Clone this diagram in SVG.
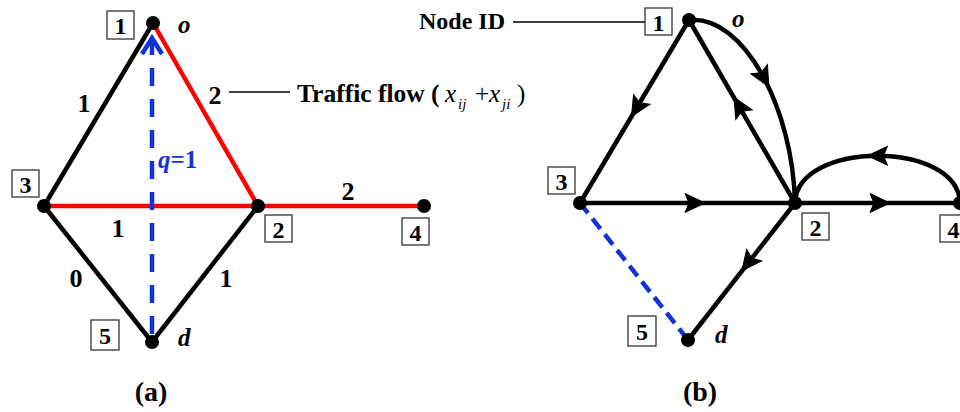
<svg xmlns="http://www.w3.org/2000/svg" width="960" height="412" viewBox="0 0 960 412">
<style>
.e{fill:none;stroke:#000;stroke-width:4.5;stroke-linejoin:round}
.r{fill:none;stroke:#ff0000;stroke-width:4.5}
.bl{fill:none;stroke:#1034d4;stroke-width:4.5}
.box{fill:#fff;stroke:#333;stroke-width:1.3}
.lead{stroke:#000;stroke-width:1.3}
.dot{fill:#000}
.ah{fill:#000;stroke:#000;stroke-width:1;stroke-linejoin:miter}
text{font-family:"Liberation Serif","Times New Roman",serif;font-weight:bold;fill:#000}
.id{font-size:24px;text-anchor:middle}
.el{font-size:26px;text-anchor:middle}
.it{font-style:italic;font-size:25px}
.cap{font-size:28px;text-anchor:middle}
.m{font-weight:normal;font-style:italic}
</style>
<defs>
<path id="arr" d="M10,0 L-10,-9.5 L-6,0 L-10,9.5 Z"/>
</defs>
<g id="connectors">
<!-- (a) -->
<line class="e" x1="153" y1="23" x2="44" y2="206"/>
<line class="e" x1="44" y1="206" x2="152" y2="342"/>
<line class="e" x1="152" y1="342" x2="258" y2="206"/>
<line class="r" x1="153" y1="23" x2="258" y2="206"/>
<line class="r" x1="44" y1="206" x2="258" y2="206"/>
<line class="r" x1="258" y1="206" x2="424" y2="206"/>
<line class="bl" x1="152" y1="334" x2="152" y2="40" stroke-dasharray="18 13"/>
<polyline class="bl" points="142,54 152,38 162,54"/>
<line class="lead" x1="229" y1="92" x2="290" y2="92"/>
<!-- (b) -->
<line class="bl" x1="580" y1="203" x2="688" y2="340" stroke-dasharray="13 7"/>
<line class="e" x1="689" y1="20" x2="580" y2="203"/>
<line class="e" x1="795" y1="203" x2="689" y2="20"/>
<line class="e" x1="580" y1="203" x2="795" y2="203"/>
<line class="e" x1="795" y1="203" x2="960" y2="203"/>
<line class="e" x1="795" y1="203" x2="688" y2="340"/>
<path class="e" d="M689,20 C745,15 793,110 795,203"/>
<path class="e" d="M960,203 C958,140 797,140 795,203"/>
<use class="ah" href="#arr" transform="translate(636.6,108) rotate(120.8)"/>
<use class="ah" href="#arr" transform="translate(739,106) rotate(-120.1)"/>
<use class="ah" href="#arr" transform="translate(695,203)"/>
<use class="ah" href="#arr" transform="translate(880,203)"/>
<use class="ah" href="#arr" transform="translate(748,263) rotate(128)"/>
<use class="ah" href="#arr" transform="translate(764,78) rotate(61)"/>
<use class="ah" href="#arr" transform="translate(877.5,155.75) rotate(180)"/>
<line class="lead" x1="513" y1="22" x2="645" y2="22"/>
</g>
<g id="a-node1"><circle class="dot" cx="153" cy="23" r="7"/><rect class="box" x="107" y="11" width="27" height="28"/><text class="id" x="120.5" y="34">1</text><text class="it" x="178" y="33">o</text></g>
<g id="a-node3"><circle class="dot" cx="44" cy="206" r="7"/><rect class="box" x="12" y="170" width="27" height="27"/><text class="id" x="25.5" y="193">3</text></g>
<g id="a-node2"><circle class="dot" cx="258" cy="206" r="7"/><rect class="box" x="265" y="215" width="27" height="27"/><text class="id" x="278.5" y="238">2</text></g>
<g id="a-node4"><circle class="dot" cx="424" cy="206" r="7"/><rect class="box" x="402" y="218" width="27" height="27"/><text class="id" x="415.5" y="241">4</text></g>
<g id="a-node5"><circle class="dot" cx="152" cy="342" r="7"/><rect class="box" x="91" y="320" width="28" height="30"/><text class="id" x="105" y="344">5</text><text class="it" x="178" y="346">d</text></g>
<g id="a-labels">
<text class="el" x="84" y="112">1</text>
<text class="el" x="215" y="104">2</text>
<text class="el" x="118" y="237">1</text>
<text class="el" x="348" y="200">2</text>
<text class="el" x="76" y="287">0</text>
<text class="el" x="226" y="287">1</text>
<text x="158" y="168" style="font-size:25px;fill:#1034d4"><tspan font-style="italic">q</tspan>=1</text>
<text x="297" y="102" style="font-size:25.5px">Traffic flow (</text>
<text y="102" style="font-size:25px"><tspan class="m" x="445">x</tspan><tspan class="m" x="458" y="109" style="font-size:15px">ij</tspan><tspan x="475" y="102" font-weight="normal">+</tspan><tspan class="m" x="489">x</tspan><tspan class="m" x="502" y="109" style="font-size:15px">ji</tspan><tspan x="517" y="102" font-weight="normal">)</tspan></text>
<text class="cap" x="151" y="401">(a)</text>
</g>
<g id="b-node1"><circle class="dot" cx="689" cy="20" r="7"/><rect class="box" x="645" y="8" width="27" height="27"/><text class="id" x="658.5" y="31">1</text><text class="it" x="732" y="27">o</text></g>
<g id="b-node3"><circle class="dot" cx="580" cy="203" r="7"/><rect class="box" x="548" y="167" width="27" height="27"/><text class="id" x="561.5" y="190">3</text></g>
<g id="b-node2"><circle class="dot" cx="795" cy="203" r="7"/><rect class="box" x="802" y="213" width="27" height="27"/><text class="id" x="815.5" y="236">2</text></g>
<g id="b-node4"><circle class="dot" cx="960" cy="203" r="7"/><rect class="box" x="940" y="215" width="27" height="27"/><text class="id" x="953.5" y="238">4</text></g>
<g id="b-node5"><circle class="dot" cx="688" cy="340" r="7"/><rect class="box" x="628" y="316" width="28" height="30"/><text class="id" x="642" y="340">5</text><text class="it" x="715" y="343">d</text></g>
<g id="b-labels">
<text x="505" y="29" style="font-size:24px;text-anchor:end">Node ID</text>
<text class="cap" x="700" y="401">(b)</text>
</g>
</svg>
